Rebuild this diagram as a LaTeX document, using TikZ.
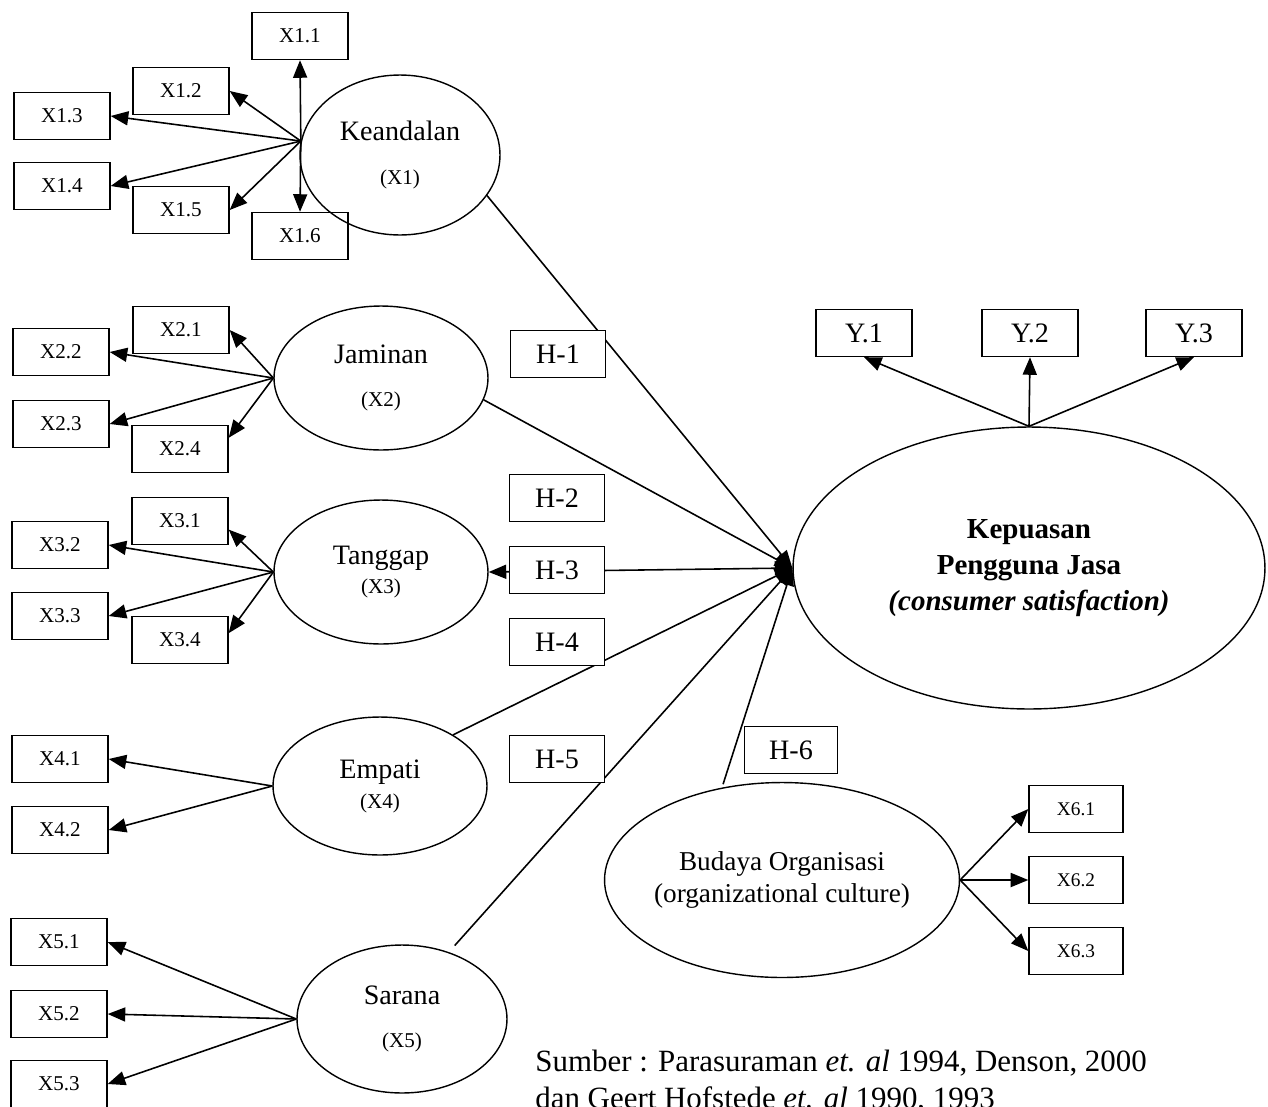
\documentclass[tikz,border=0pt]{standalone}
\usepackage{fontspec}
\setmainfont{Liberation Serif}
\usetikzlibrary{positioning,arrows.meta,shapes.geometric}

\begin{document}
\begin{tikzpicture}[x=0.02cm, y=-0.02cm,
    ind/.style={draw, rectangle, line width=0.8pt, inner sep=0pt,
        minimum width=1.92cm, minimum height=0.94cm,
        font=\fontsize{12}{14}\selectfont},
    hyp/.style={ind, fill=white, minimum width=1.9cm,
        font=\fontsize{16}{19}\selectfont},
    latent/.style={draw, ellipse, line width=0.8pt, inner sep=0pt,
        align=center, font=\fontsize{16}{19}\selectfont},
    load/.style={-{Triangle[length=10pt,width=8pt]}, line width=0.9pt},
    both/.style={{Triangle[length=10pt,width=8pt]}-{Triangle[length=10pt,width=8pt]},
        line width=0.9pt}]
    \useasboundingbox (0,0) rectangle (1268,1106);

    % Keandalan (X1)
    \node[latent, minimum width=4cm, minimum height=3.2cm] (keandalan) at (400,155)
        {Keandalan\\[6pt]{\fontsize{12}{14}\selectfont (X1)}};
    \node[ind] (x11) at (300,36) {X1.1};
    \node[ind] (x12) at (181,91) {X1.2};
    \node[ind] (x13) at (62,116) {X1.3};
    \node[ind] (x14) at (62,186) {X1.4};
    \node[ind] (x15) at (181,210) {X1.5};
    \node[ind] (x16) at (300,236) {X1.6};
    \coordinate (k0) at (keandalan.172);
    \foreach \b/\a in {x11/south, x12/east, x13/east, x14/east, x15/east, x16/north}
        \draw[load] (k0) -- (\b.\a);

    % Jaminan (X2)
    \node[latent, minimum width=4.28cm, minimum height=2.88cm] (jaminan) at (381,378)
        {Jaminan\\[5pt]{\fontsize{12}{14}\selectfont (X2)}};
    \node[ind] (x21) at (181,330) {X2.1};
    \node[ind] (x22) at (61,352) {X2.2};
    \node[ind] (x23) at (61,424) {X2.3};
    \node[ind] (x24) at (180,449) {X2.4};
    \foreach \b/\a in {x21/east, x22/east, x23/east, x24/13}
        \draw[load] (jaminan.west) -- (\b.\a);

    % Tanggap (X3)
    \node[latent, minimum width=4.28cm, minimum height=2.88cm] (tanggap) at (381,572)
        {Tanggap\\[-2pt]{\fontsize{12}{14}\selectfont (X3)}};
    \node[ind] (x31) at (180,521) {X3.1};
    \node[ind] (x32) at (60,545) {X3.2};
    \node[ind] (x33) at (60,616) {X3.3};
    \node[ind] (x34) at (180,640) {X3.4};
    \foreach \b/\a in {x31/-10, x32/east, x33/east, x34/8}
        \draw[load] (tanggap.west) -- (\b.\a);

    % Empati (X4)
    \node[latent, minimum width=4.28cm, minimum height=2.76cm] (empati) at (380,786)
        {Empati\\[-2pt]{\fontsize{12}{14}\selectfont (X4)}};
    \node[ind] (x41) at (60,759) {X4.1};
    \node[ind] (x42) at (60,830) {X4.2};
    \foreach \b in {x41, x42}
        \draw[load] (empati.west) -- (\b.east);

    % Sarana (X5)
    \node[latent, minimum width=4.2cm, minimum height=2.96cm] (sarana) at (402,1019)
        {Sarana\\[5pt]{\fontsize{12}{14}\selectfont (X5)}};
    \node[ind] (x51) at (59,942) {X5.1};
    \node[ind] (x52) at (59,1014) {X5.2};
    \node[ind] (x53) at (59,1084) {X5.3};
    \foreach \b in {x51, x52, x53}
        \draw[load] (sarana.west) -- (\b.east);

    % Kepuasan Pengguna Jasa (Y)
    \node[latent, minimum width=9.44cm, minimum height=5.64cm,
        font=\fontsize{16.5}{20.5}\selectfont\bfseries] (kepuasan) at (1029,568)
        {Kepuasan\\Pengguna Jasa\\\textit{(consumer satisfaction)}};
    \node[ind, font=\fontsize{16}{19}\selectfont] (y1) at (864,333) {Y.1};
    \node[ind, font=\fontsize{16}{19}\selectfont] (y2) at (1030,333) {Y.2};
    \node[ind, font=\fontsize{16}{19}\selectfont] (y3) at (1194,333) {Y.3};
    \foreach \b in {y1, y2, y3}
        \draw[load] (kepuasan.north) -- (\b.south);

    % Budaya Organisasi (X6)
    \node[latent, minimum width=7.1cm, minimum height=3.9cm, inner xsep=-0.5cm,
        font=\fontsize{15.5}{18}\selectfont] (budaya) at (782,880)
        {Budaya Organisasi\\(organizational culture)};
    \node[ind, minimum width=1.88cm, font=\fontsize{11}{13}\selectfont] (x61) at (1076,809) {X6.1};
    \node[ind, minimum width=1.88cm, font=\fontsize{11}{13}\selectfont] (x62) at (1076,880) {X6.2};
    \node[ind, minimum width=1.88cm, font=\fontsize{11}{13}\selectfont] (x63) at (1076,951) {X6.3};
    \foreach \b in {x61, x62, x63}
        \draw[load] (budaya.east) -- (\b.west);

    % hypotheses
    \draw[load] (keandalan.-25) -- (kepuasan.west);
    \draw[load] (jaminan.-12) -- (kepuasan.west);
    \draw[both] (kepuasan.west) -- (tanggap.east);
    \draw[load] (empati.35) -- (kepuasan.west);
    \draw[load, shorten <=5pt] (sarana.55) -- (kepuasan.west);
    \draw[load, shorten <=2pt] (budaya.123) -- (kepuasan.west);

    \node[hyp] (h1) at (558,354) {H-1};
    \node[hyp] (h2) at (557,498) {H-2};
    \node[hyp] (h3) at (557,570) {H-3};
    \node[hyp] (h4) at (557,642) {H-4};
    \node[hyp] (h5) at (557,759) {H-5};
    \node[hyp, minimum width=1.86cm] (h6) at (791,750) {H-6};

    % source
    \node[anchor=north west, inner sep=0pt, align=left,
        font=\fontsize{17.6}{21}\selectfont] (sumber) at (535,1050)
        {Sumber : Parasuraman \textit{et. al} 1994, Denson, 2000\\
         dan Geert Hofstede \textit{et. al} 1990, 1993};
\end{tikzpicture}
\end{document}
